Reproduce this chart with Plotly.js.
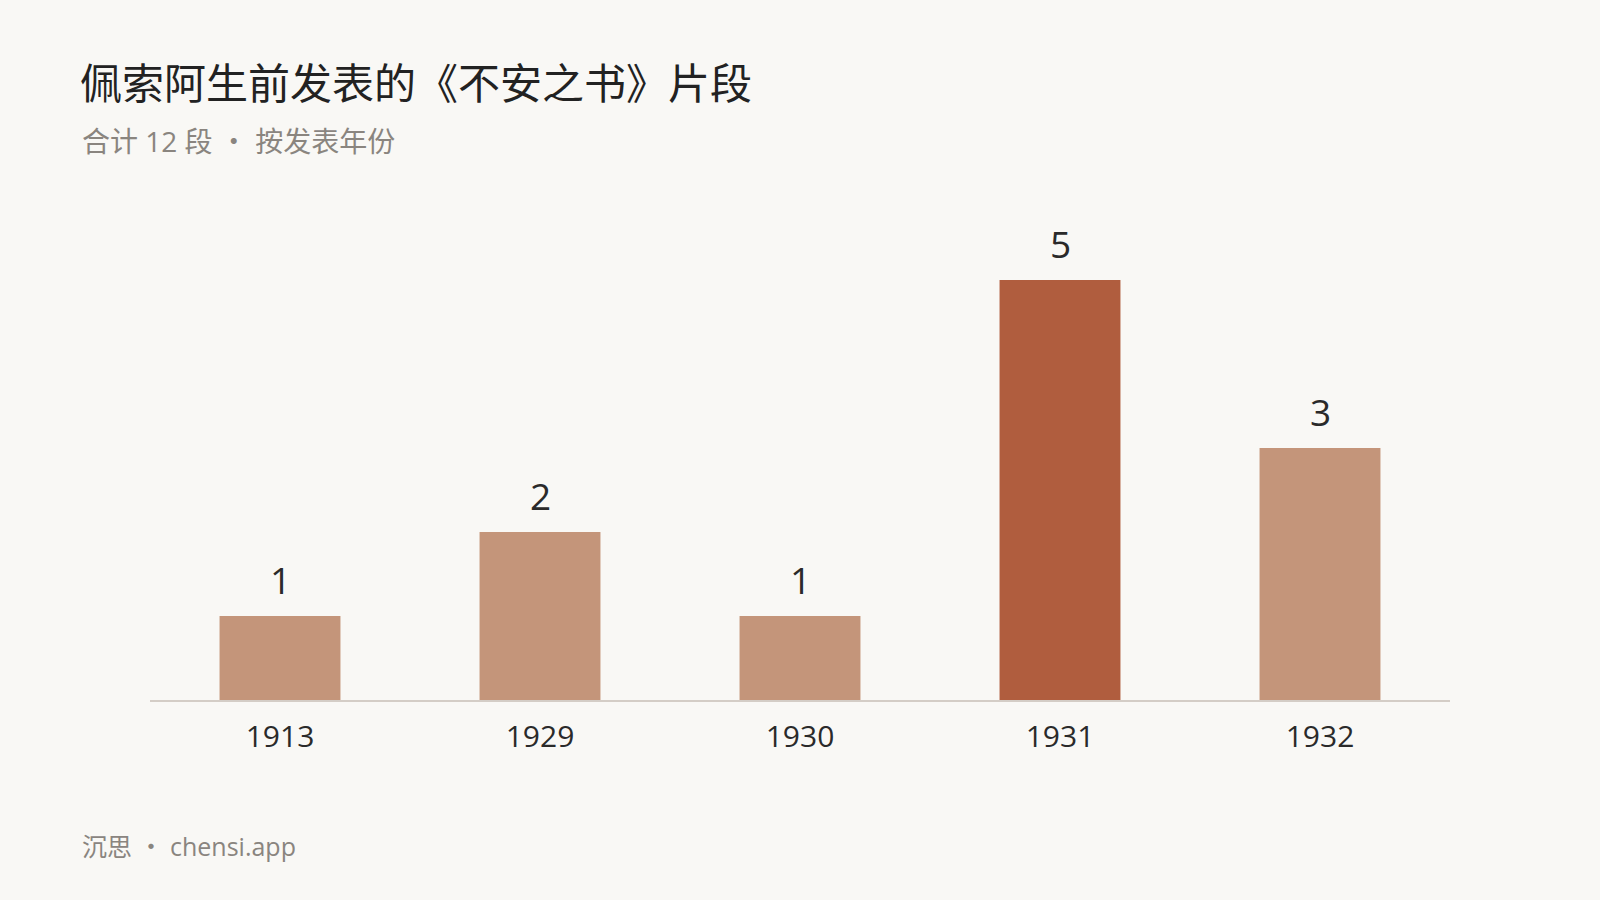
<!DOCTYPE html>
<html>
<head>
<meta charset="utf-8">
<script src="https://cdn.plot.ly/plotly-3.0.1.min.js"></script>
<style>html,body{margin:0;padding:0;background:#f9f8f5;}#chart{width:1600px;height:900px;}</style>
</head>
<body>
<div id="chart"></div>
<script>
const years = ["1913", "1929", "1930", "1931", "1932"];
const counts = [1, 2, 1, 5, 3];
const highlightYear = "1931";
const titleText = "佩索阿生前发表的《不安之书》片段";
const subtitleParts = ["合计 12 段", "按发表年份"];
const footerParts = ["沉思", "chensi.app"];

const FONT = "'Open Sans', 'Noto Sans CJK SC', sans-serif";
const TFONT = "'Noto Sans CJK SC', sans-serif";
const DOT = ' <span style="font-family:Noto Sans CJK SC">·</span> ';
const colors = years.map(y => y === highlightYear ? "#b05d3e" : "#c4957a");

const trace = {
  type: "bar",
  x: years,
  y: counts,
  marker: {color: colors, line: {width: 0}},
  hoverinfo: "skip"
};

const valueAnns = years.map((y, i) => ({
  x: i, y: counts[i], xref: "x", yref: "y",
  text: String(counts[i]), showarrow: false,
  yanchor: "bottom", yshift: 9,
  font: {family: FONT, size: 37, color: "#2a2a2a"}
}));

const layout = {
  width: 1600, height: 900,
  paper_bgcolor: "#f9f8f5", plot_bgcolor: "#f9f8f5",
  margin: {l: 150, r: 150, t: 196, b: 200},
  bargap: 0.535,
  showlegend: false,
  title: {
    text: titleText,
    xref: "container", yref: "container",
    x: 80/1600, xanchor: "left",
    y: 1 - 84/900, yanchor: "middle",
    font: {family: TFONT, size: 42, color: "#222222"}
  },
  xaxis: {
    type: "category",
    range: [-0.5, years.length - 0.5],
    showgrid: false, zeroline: false,
    showline: true, linecolor: "#d4cdc6", linewidth: 2,
    ticks: "", ticklabelstandoff: 9,
    tickfont: {family: FONT, size: 30, color: "#2a2a2a"},
    fixedrange: true
  },
  yaxis: {
    range: [0, 6],
    showgrid: false, zeroline: false, showline: false,
    showticklabels: false, ticks: "",
    fixedrange: true
  },
  annotations: valueAnns.concat([
    {
      xref: "paper", yref: "paper",
      x: (80 - 150) / 1300, xanchor: "left",
      y: (700 - 140) / 504, yanchor: "middle",
      text: subtitleParts.join(DOT), showarrow: false,
      font: {family: FONT, size: 28, color: "#8a857f"}
    },
    {
      xref: "paper", yref: "paper",
      x: (80 - 150) / 1300, xanchor: "left",
      y: (700 - 845) / 504, yanchor: "middle",
      text: footerParts.join(DOT), showarrow: false,
      font: {family: FONT, size: 25, color: "#8a857f"}
    }
  ])
};

Plotly.newPlot("chart", [trace], layout, {displayModeBar: false, staticPlot: true});
</script>
</body>
</html>
